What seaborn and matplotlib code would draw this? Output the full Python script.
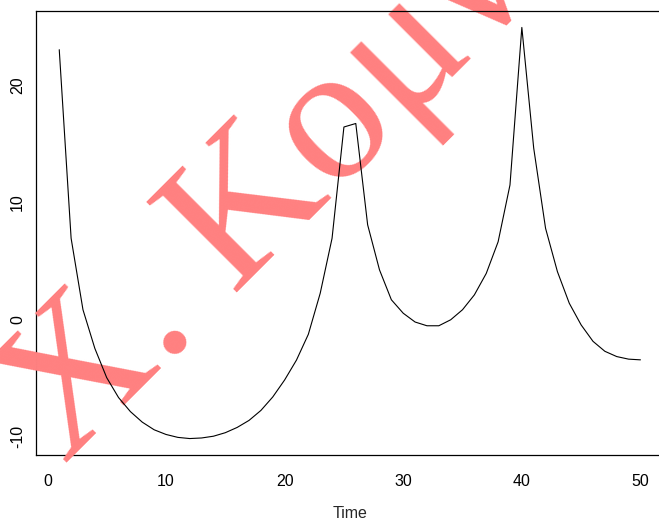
import matplotlib
matplotlib.use("Agg")
import matplotlib.pyplot as plt
import pandas as pd
import seaborn as sns

# Series values, one per time step
time = list(range(1, 51))
values = [23.0, 6.9, 0.8, -2.5, -5.0, -6.7, -7.9, -8.8, -9.45, -9.85,
          -10.1, -10.2, -10.15, -10.0, -9.7, -9.25, -8.65, -7.8, -6.65, -5.2,
          -3.5, -1.3, 2.2, 6.9, 16.4, 16.7, 8.05, 4.2, 1.65, 0.5,
          -0.25, -0.57, -0.57, -0.06, 0.8, 2.07, 3.9, 6.6, 11.45, 24.9,
          14.6, 7.75, 4.05, 1.35, -0.5, -1.9, -2.75, -3.2, -3.42, -3.48]

x_ticks = [0, 10, 20, 30, 40, 50]
x_tick_labels = ["0", "10", "20", "30", "40", "50"]
y_ticks = [-10, 0, 10, 20]
y_tick_labels = ["-10", "0", "10", "20"]
x_label = "Time"
watermark = "Χ. Κομν"

sns.set_theme(style="white")
plt.rcParams["font.family"] = ["Liberation Sans", "DejaVu Sans"]

df = pd.DataFrame({"Time": time, "value": values})

fig = plt.figure(figsize=(6.59, 5.24), dpi=100)
W, H = 659, 524
# plot region; its right edge falls just past the canvas
ax = fig.add_axes([36 / W, 1 - 455 / H, (663.7 - 36) / W, (455 - 11) / H])
ax.patch.set_visible(False)

sns.lineplot(data=df, x="Time", y="value", color="black", linewidth=0.8, ax=ax)

# R-style range padding (4% on each side)
xr = max(time) - min(time)
ax.set_xlim(min(time) - 0.04 * xr, max(time) + 0.04 * xr)
yr = max(values) - min(values)
ax.set_ylim(min(values) - 0.04 * yr, max(values) + 0.04 * yr)

ax.set_xticks(x_ticks)
ax.set_xticklabels(x_tick_labels)
ax.set_yticks(y_ticks)
ax.set_yticklabels(y_tick_labels, rotation=90, va="center")
ax.tick_params(axis="both", direction="out", length=5.5, width=0.6,
               color="#444444", labelsize=11.5, labelcolor="black")
ax.tick_params(axis="x", pad=8.5)
ax.tick_params(axis="y", pad=2.5)
ax.set_xlabel(x_label, fontsize=11.5, labelpad=12)
ax.set_ylabel("")

for name, sp in ax.spines.items():
    sp.set_color("black")
    sp.set_linewidth(0.9)
ax.spines["right"].set_visible(False)
ax.spines["left"].set_zorder(0.5)
ax.spines["bottom"].set_zorder(0.5)

# Diagonal watermark behind the series
ax.text(64.5 / W, 1 - 465.0 / H, watermark, transform=fig.transFigure,
        rotation=45, rotation_mode="anchor", ha="left", va="baseline",
        fontsize=141, color="#FF8080", family=["Liberation Serif", "DejaVu Serif"],
        zorder=1, clip_on=False)

fig.savefig("out.png", dpi=100)
